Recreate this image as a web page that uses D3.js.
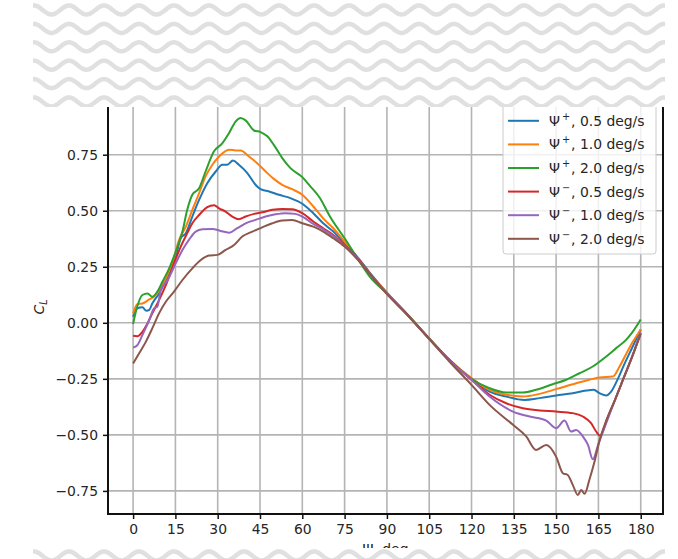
<!DOCTYPE html>
<html>
<head>
<meta charset="utf-8">
<script src="https://cdn.jsdelivr.net/npm/d3@7"></script>
<style>
  body { margin: 0; background: #fff; }
  text { font-family: "DejaVu Sans", sans-serif; }
</style>
</head>
<body>
<script>
// lift coefficient vs heading
let psiPlus05 = [[0,0.027],[1.5,0.064],[3.3,0.069],[4.7,0.054],[5.7,0.057],[6.8,0.086],[9.2,0.131],[12.2,0.206],[15.1,0.295],[16.9,0.377],[18.7,0.40],[21,0.474],[23.4,0.548],[26.3,0.623],[29.3,0.675],[31.6,0.705],[33.4,0.705],[35.4,0.724],[37.5,0.705],[40.5,0.668],[43.4,0.616],[45.2,0.596],[48.2,0.586],[51.7,0.571],[55.8,0.556],[60,0.531],[63.9,0.489],[67.4,0.444],[71,0.407],[75,0.355],[79.2,0.298],[83.9,0.224],[90,0.134],[97,0.04],[105,-0.07],[112.3,-0.167],[120,-0.251],[126.4,-0.307],[132.3,-0.329],[138.8,-0.344],[144.1,-0.336],[150,-0.324],[155.9,-0.314],[160.7,-0.302],[163.3,-0.299],[165.4,-0.314],[167.8,-0.324],[169.5,-0.307],[171.9,-0.25],[174,-0.19],[177,-0.11],[180,-0.03]];
let psiPlus10 = [[0,0.042],[1.5,0.083],[3.3,0.086],[5.7,0.104],[7.4,0.116],[9.2,0.146],[11.6,0.198],[13.9,0.265],[16.3,0.37],[18.7,0.429],[21,0.504],[23.4,0.578],[25.7,0.653],[28.1,0.705],[30.5,0.742],[34,0.772],[36.4,0.769],[38.1,0.769],[41.1,0.742],[44,0.712],[47,0.675],[49.9,0.642],[52.9,0.615],[56.4,0.596],[60,0.571],[63.9,0.519],[67.4,0.466],[71,0.422],[75,0.362],[79.2,0.295],[83.9,0.22],[90,0.134],[97,0.041],[105,-0.07],[112.3,-0.166],[120,-0.247],[126.4,-0.299],[132.3,-0.321],[138.2,-0.329],[144.1,-0.317],[150,-0.296],[155.9,-0.274],[161.8,-0.254],[165.4,-0.244],[170.1,-0.24],[172.5,-0.195],[174.8,-0.14],[177.2,-0.085],[180,-0.03]];
let psiPlus20 = [[0,-0.006],[1.2,0.06],[3.3,0.124],[5.1,0.131],[6.8,0.116],[8.6,0.139],[10.4,0.183],[12.8,0.243],[15.1,0.317],[17.5,0.407],[19.2,0.504],[21,0.571],[23.4,0.60],[25.7,0.675],[28.7,0.765],[31.6,0.80],[34,0.846],[36.4,0.899],[38.1,0.914],[39.9,0.903],[42.9,0.858],[45.2,0.851],[47.6,0.832],[49.9,0.794],[52.9,0.735],[55.8,0.69],[60,0.65],[62.7,0.611],[66.3,0.556],[69.8,0.474],[75,0.377],[79.2,0.295],[83.9,0.206],[90,0.131],[97,0.042],[105,-0.07],[112.3,-0.167],[119.4,-0.245],[126.4,-0.292],[132.3,-0.311],[138.2,-0.311],[142.9,-0.299],[148.8,-0.274],[153.6,-0.254],[158.3,-0.225],[163,-0.195],[167.8,-0.15],[171.3,-0.113],[174.8,-0.076],[177.2,-0.039],[180,0.015]];
let psiMinus05 = [[0,-0.058],[1.5,-0.06],[3.3,-0.04],[5.1,-0.003],[6.8,0.042],[9.2,0.101],[11.6,0.168],[14.5,0.265],[16.9,0.34],[19.2,0.40],[21,0.444],[23.4,0.481],[26.3,0.516],[28.7,0.525],[30.5,0.511],[32.8,0.496],[35.2,0.474],[37.5,0.462],[39.9,0.474],[42.9,0.486],[45.8,0.493],[49.4,0.504],[52.9,0.508],[56.4,0.507],[60,0.489],[63.9,0.452],[67.4,0.422],[71,0.392],[75,0.347],[79.2,0.295],[83.9,0.22],[90,0.131],[97,0.04],[105,-0.071],[112.3,-0.168],[120,-0.254],[126.4,-0.321],[132.3,-0.359],[138.2,-0.381],[144.1,-0.391],[150,-0.396],[155.9,-0.403],[159.5,-0.418],[162.4,-0.448],[164.2,-0.485],[165.6,-0.504],[168,-0.43],[171,-0.34],[174,-0.245],[177,-0.15],[180,-0.045]];
let psiMinus10 = [[0,-0.11],[1.5,-0.10],[3.3,-0.055],[5.7,0.012],[7.4,0.064],[8.6,0.072],[9.8,0.146],[12.2,0.19],[15.1,0.265],[17.5,0.325],[19.8,0.37],[22.2,0.407],[24.6,0.417],[28.1,0.419],[31,0.41],[34,0.402],[36.9,0.422],[39.9,0.444],[43.4,0.459],[47,0.474],[50.5,0.484],[54,0.489],[57.5,0.486],[60,0.474],[63.9,0.441],[67.4,0.417],[71,0.387],[75,0.343],[79.2,0.292],[83.9,0.218],[90,0.13],[97,0.039],[105,-0.072],[112.3,-0.17],[120,-0.254],[126.4,-0.329],[134.7,-0.396],[140.6,-0.418],[146.5,-0.436],[150,-0.47],[153,-0.436],[155.3,-0.485],[157.1,-0.478],[159.5,-0.507],[161.3,-0.545],[163,-0.609],[165,-0.54],[168,-0.44],[171,-0.34],[174,-0.245],[177,-0.15],[180,-0.045]];
let psiMinus20 = [[0,-0.182],[2.1,-0.137],[4.5,-0.085],[6.8,-0.025],[9.2,0.042],[11.6,0.094],[14.5,0.139],[17.5,0.191],[21,0.243],[24,0.28],[26.9,0.30],[29.9,0.303],[32.8,0.325],[35.8,0.347],[38.7,0.385],[42.3,0.407],[45.8,0.426],[49.4,0.444],[52.9,0.456],[56.4,0.459],[60,0.444],[63.9,0.429],[67.4,0.407],[71,0.377],[75,0.34],[79.2,0.288],[83.9,0.218],[90,0.128],[97,0.038],[105,-0.073],[112.3,-0.175],[120,-0.277],[126.4,-0.366],[134.7,-0.455],[139.4,-0.507],[142.9,-0.567],[146.5,-0.545],[150,-0.597],[152.4,-0.671],[154.1,-0.679],[155.9,-0.723],[157.7,-0.768],[158.9,-0.746],[160.1,-0.763],[161.8,-0.70],[163.6,-0.62],[165.5,-0.52],[168,-0.43],[171,-0.34],[174,-0.245],[177,-0.15],[180,-0.05]];

let seriesData = [psiPlus05, psiPlus10, psiPlus20, psiMinus05, psiMinus10, psiMinus20];
let seriesSign = ['+', '+', '+', '\u2212', '\u2212', '\u2212'];
let seriesRate = ['0.5', '1.0', '2.0', '0.5', '1.0', '2.0'];
let seriesColor = ['#1f77b4', '#ff7f0e', '#2ca02c', '#d62728', '#9467bd', '#8c564b'];

let xTicks = [0, 15, 30, 45, 60, 75, 90, 105, 120, 135, 150, 165, 180];
let yTicks = [-0.75, -0.5, -0.25, 0, 0.25, 0.5, 0.75];

let W = 678, H = 559;
let plotL = 108, plotR = 663, plotT = 100, plotB = 514;
let fs = 13.9;

let svg = d3.select('body')
    .append('svg')
        .attr('width', W)
        .attr('height', H);

let x = d3.scaleLinear().domain([-8.9, 187.9]).range([plotL, plotR]);
let y = d3.scaleLinear().domain([-0.853, 0.994]).range([plotB, plotT]);

// grid
let grid = svg.append('g');
xTicks.forEach(function(t) {
    grid.append('line')
        .attr('x1', x(t)).attr('x2', x(t))
        .attr('y1', plotT).attr('y2', plotB)
        .attr('stroke', '#b4b4b4').attr('stroke-width', 1.6);
});
yTicks.forEach(function(t) {
    grid.append('line')
        .attr('x1', plotL).attr('x2', plotR)
        .attr('y1', y(t)).attr('y2', y(t))
        .attr('stroke', '#b4b4b4').attr('stroke-width', 1.6);
});

// curves
svg.append('clipPath').attr('id', 'plotclip')
    .append('rect')
        .attr('x', plotL).attr('y', plotT)
        .attr('width', plotR - plotL).attr('height', plotB - plotT);

let line = d3.line()
    .x(function(d) { return x(d[0]); })
    .y(function(d) { return y(d[1]); })
    .curve(d3.curveMonotoneX);

let curves = svg.append('g').attr('clip-path', 'url(#plotclip)');
for (let i = 0; i < seriesData.length; i++) {
    curves.append('path')
        .attr('d', line(seriesData[i]))
        .attr('fill', 'none')
        .attr('stroke', seriesColor[i])
        .attr('stroke-width', 2)
        .attr('stroke-linejoin', 'round');
}

// axes
let xAxis = svg.append('g')
    .attr('transform', 'translate(0,' + plotB + ')')
    .call(d3.axisBottom(x).tickValues(xTicks).tickSize(5).tickPadding(5).tickFormat(d3.format('d')));
let yAxis = svg.append('g')
    .attr('transform', 'translate(' + plotL + ',0)')
    .call(d3.axisLeft(y).tickValues(yTicks).tickSize(5).tickPadding(5).tickFormat(d3.format('.2f')));

[xAxis, yAxis].forEach(function(a) {
    a.select('.domain').remove();
    a.selectAll('.tick line').attr('stroke', '#111').attr('stroke-width', 1.5);
    a.selectAll('.tick text')
        .attr('fill', '#262626')
        .style('font-family', '"DejaVu Sans", sans-serif')
        .style('font-size', fs + 'px');
});

// spines
function AddLine(x1, y1, x2, y2) {
    return svg.append('line')
        .attr('x1', x1).attr('y1', y1)
        .attr('x2', x2).attr('y2', y2)
        .attr('stroke', '#111')
        .attr('stroke-width', 2)
        .attr('stroke-linecap', 'square');
}
AddLine(plotL, plotT, plotL, plotB);
AddLine(plotL, plotB, plotR, plotB);
AddLine(plotR, plotT, plotR, plotB);
AddLine(plotL, plotT, plotR, plotT);

// axis labels
let ylab = svg.append('text')
    .attr('transform', 'translate(44,' + ((plotT + plotB) / 2) + ') rotate(-90)')
    .attr('text-anchor', 'middle')
    .attr('fill', '#262626')
    .style('font-size', fs + 'px');
ylab.append('tspan').style('font-style', 'italic').text('C');
ylab.append('tspan').style('font-style', 'italic').style('font-size', (fs * 0.7) + 'px').attr('dy', 3).text('L');

svg.append('text')
    .attr('x', (plotL + plotR) / 2)
    .attr('y', 554)
    .attr('text-anchor', 'middle')
    .attr('fill', '#262626')
    .style('font-size', fs + 'px')
    .text('\u03a8, deg');

// legend
let legend = svg.append('g');
legend.append('rect')
    .attr('x', 503).attr('y', 95)
    .attr('width', 153).attr('height', 159)
    .attr('rx', 3)
    .attr('fill', 'white').attr('fill-opacity', 0.8)
    .attr('stroke', '#cccccc').attr('stroke-width', 1);
for (let i = 0; i < seriesData.length; i++) {
    let ly = 120.8 + i * 23.6;
    legend.append('line')
        .attr('x1', 508).attr('x2', 539)
        .attr('y1', ly).attr('y2', ly)
        .attr('stroke', seriesColor[i]).attr('stroke-width', 2);
    let t = legend.append('text')
        .attr('x', 549).attr('y', ly + 5)
        .attr('fill', '#262626')
        .style('font-size', fs + 'px');
    t.append('tspan').text('\u03a8');
    t.append('tspan').attr('dx', 2).attr('dy', -6).style('font-size', (fs * 0.7) + 'px').text(seriesSign[i]);
    t.append('tspan').attr('dx', 1).attr('dy', 6).text(', ' + seriesRate[i] + ' deg/s');
}

// wavy bands laid over the figure
function AddWaves(x0, y0, w, h, rows) {
    let id = 'wave' + y0;
    svg.append('clipPath').attr('id', id)
        .append('rect')
            .attr('x', x0).attr('y', y0)
            .attr('width', w).attr('height', h);
    let g = svg.append('g').attr('clip-path', 'url(#' + id + ')');
    g.append('rect')
        .attr('x', x0).attr('y', y0)
        .attr('width', w).attr('height', h)
        .attr('fill', 'white');
    rows.forEach(function(yc) {
        let pts = [];
        for (let px = x0 - 5; px <= x0 + w + 5; px += 1) {
            pts.push([px, yc - 4.5 * Math.cos(2 * Math.PI * (px - 34) / 35)]);
        }
        g.append('path')
            .attr('d', d3.line()(pts))
            .attr('fill', 'none')
            .attr('stroke', '#e0e0e0')
            .attr('stroke-width', 4.5);
    });
}
AddWaves(33, 0, 632, 107, [-8.4, 10, 28.4, 46.8, 65.2, 83.6, 102]);
AddWaves(33, 548, 632, 11, [556]);
</script>
</body>
</html>
